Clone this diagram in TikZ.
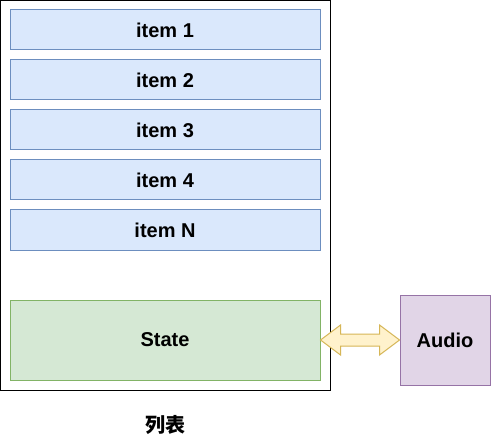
\documentclass[tikz,border=0pt]{standalone}
\usetikzlibrary{calc}
\usepackage{fontspec}
\setmainfont{Liberation Sans}
\newfontfamily\cjk{Noto Sans CJK SC}
\definecolor{bluefill}{HTML}{DAE8FC}
\definecolor{bluedraw}{HTML}{6C8EBF}
\definecolor{greenfill}{HTML}{D5E8D4}
\definecolor{greendraw}{HTML}{82B366}
\definecolor{purplefill}{HTML}{E1D5E7}
\definecolor{purpledraw}{HTML}{9673A6}
\definecolor{yellowfill}{HTML}{FFF2CC}
\definecolor{yellowdraw}{HTML}{D6B656}
\begin{document}
\begin{tikzpicture}[x=0.75pt,y=-0.75pt,
  box/.style={draw, line width=0.75pt, inner sep=0pt, font=\fontsize{15}{18}\selectfont\bfseries},
  itembox/.style={box, fill=bluefill, draw=bluedraw, minimum width=232.5pt, minimum height=30pt},
  statebox/.style={box, fill=greenfill, draw=greendraw, minimum width=232.5pt, minimum height=60pt},
  audiobox/.style={box, fill=purplefill, draw=purpledraw, minimum width=67.5pt, minimum height=67.5pt},
  container/.style={draw=black, line width=0.75pt, fill=white},
  dblarrow/.style={fill=yellowfill, draw=yellowdraw, line width=0.75pt, line join=miter}
]
\useasboundingbox (0,0) rectangle (491,441);
\fill[white] (0,0) rectangle (491,441);
\draw[container] (0.5,0.5) rectangle (330,390);
\node[itembox] (i1) at (165,30) {item 1};
\node[itembox] (i2) at (165,80) {item 2};
\node[itembox] (i3) at (165,130) {item 3};
\node[itembox] (i4) at (165,180) {item 4};
\node[itembox] (iN) at (165,230) {item N};
\node[statebox] (state) at (165,340) {State};
\node[audiobox] (audio) at (445,340) {Audio};
\node[font=\cjk\fontsize{15}{18}\selectfont\bfseries] (label) at (165,425) {列表};
\draw[dblarrow] (state.east)
  -- ++(20,-15) -- ++(0,9) -- ($(audio.west)+(-20,-6)$)
  -- ++(0,-9) -- (audio.west) -- ++(-20,15) -- ++(0,-9)
  -- ($(state.east)+(20,6)$) -- ++(0,9) -- cycle;
\end{tikzpicture}
\end{document}
